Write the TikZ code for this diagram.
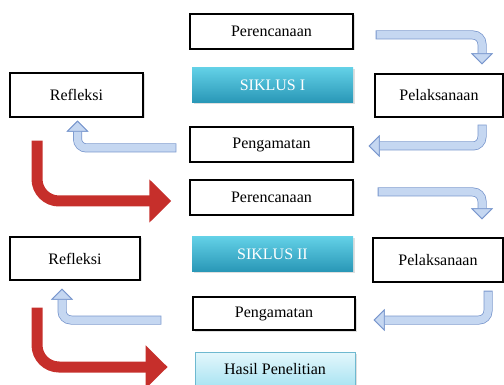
\documentclass[tikz,border=0pt]{standalone}
\usepackage{fontspec}
\setmainfont{Liberation Serif}
\usetikzlibrary{arrows.meta,calc,shadows}
\definecolor{bluefill}{RGB}{197,215,241}
\definecolor{blueline}{RGB}{120,150,205}
\definecolor{redfill}{RGB}{198,47,43}
\definecolor{cyanhi}{RGB}{98,208,230}
\definecolor{cyanlo}{RGB}{40,150,182}
\definecolor{hasilhi}{RGB}{228,247,252}
\definecolor{hasillo}{RGB}{170,228,242}
\definecolor{hasilline}{RGB}{110,185,208}

\begin{document}
\begin{tikzpicture}[x=1pt,y=-1pt,
    box/.style={draw=black,line width=1.4pt,fill=white,minimum width=163pt,minimum height=35pt,
        inner sep=0pt,font=\fontsize{16}{19}\selectfont,
        drop shadow={shadow xshift=1.5pt,shadow yshift=-1.5pt,opacity=0.25}},
    siklus/.style={box,draw=none,top color=cyanhi,bottom color=cyanlo,text=white,minimum width=161pt},
    hasil/.style={box,draw=hasilline,line width=0.8pt,top color=hasilhi,bottom color=hasillo,minimum width=160pt,minimum height=34pt},
    bluearr/.style={draw=bluefill,line width=7.5pt,rounded corners=9pt,shorten <=0.8pt,
        -{Triangle[width=22pt,length=11pt,fill=bluefill,color=blueline,line width=0.8pt]},
        preaction={draw=blueline,line width=9pt,shorten <=0pt,
            -{Triangle[width=22pt,length=11pt,fill=blueline,color=blueline,line width=0.8pt]}}},
    redarr/.style={draw=redfill,line width=11pt,rounded corners=22pt,
        -{Triangle[width=42pt,length=22pt]}}]
    \useasboundingbox (0,0) rectangle (504,385);

    % siklus I
    \node[box] (per1) at (271.5,31.5) {Perencanaan};
    \node[siklus] (sik1) at (272.5,85.5) {SIKLUS I};
    \node[box,minimum width=128pt,minimum height=43pt] (pel1) at (439,95.5) {Pelaksanaan};
    \node[box,minimum width=133pt,minimum height=44pt] (ref1) at (76.5,95) {Refleksi};
    \node[box] (pen1) at (271.5,144.5) {Pengamatan};

    % siklus II
    \node[box] (per2) at (271.5,197.5) {Perencanaan};
    \node[siklus] (sik2) at (272.5,254.5) {SIKLUS II};
    \node[box,minimum width=130pt,minimum height=44pt] (pel2) at (438,260) {Pelaksanaan};
    \node[box,minimum width=130pt,minimum height=43pt] (ref2) at (75,258.5) {Refleksi};
    \node[box,minimum width=162pt,minimum height=33pt] (pen2) at (274,313.5) {Pengamatan};
    \node[hasil] (hasil) at (275,369) {Hasil Penelitian};

    \draw[bluearr] ($(per1.east)+(22,3.5)$) -| ($(pel1.north)+(43,-9)$);
    \draw[bluearr] ($(pel1.south)+(43,7)$) |- ($(pen1.east)+(15,1.5)$);
    \draw[bluearr] ($(pen1.west)+(-13,3.5)$) -| ($(ref1.south)+(1,3)$);
    \draw[redarr] ($(ref1.south)+(-39.5,23)$) |- ($(per2.west)+(-18,3.5)$);

    \draw[bluearr] ($(per2.east)+(24,-5.5)$) -| ($(pel2.north)+(44,-18)$);
    \draw[bluearr] ($(pel2.south)+(50,8)$) |- ($(pen2.east)+(18,6.5)$);
    \draw[bluearr] ($(pen2.west)+(-31,6.5)$) -| ($(ref2.south)+(-13,8)$);
    \draw[redarr] ($(ref2.south)+(-38,27)$) |- ($(hasil.west)+(-27,-2)$);
\end{tikzpicture}
\end{document}
